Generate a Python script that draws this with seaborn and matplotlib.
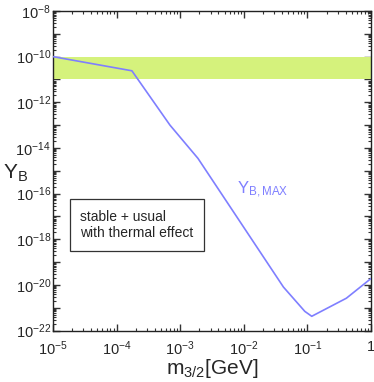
import numpy as np
import pandas as pd
import matplotlib
matplotlib.use("Agg")
import matplotlib.pyplot as plt
import matplotlib.ticker as mticker
import seaborn as sns

# valeurs
m32 = [1e-5, 1.74e-4, 6.9e-4, 1.9e-3, 0.042, 0.091, 0.117, 0.41, 1.0]
yb_max = [1.0e-10, 2.4e-11, 1.0e-13, 3.5e-15, 8e-21, 6.9e-22, 4.2e-22, 2.6e-21, 1.9e-20]
bande_obs = [1e-11, 1e-10]
y_labels = [-22, -20, -18, -16, -14, -12, -10, -8]
x_labels = [-5, -4, -3, -2, -1, 0]

sns.set_style("ticks")
plt.rcParams['font.family'] = ['Liberation Sans', 'DejaVu Sans']
plt.rcParams['mathtext.fontset'] = 'custom'
plt.rcParams['mathtext.rm'] = 'Liberation Sans'
plt.rcParams['mathtext.default'] = 'regular'

df = pd.DataFrame({'m32': m32, 'yb': yb_max})

fig = plt.figure(figsize=(3.74, 3.82), dpi=100)
ax = fig.add_axes([0.1417, 0.1348, 0.8503, 0.8364])

ax.axhspan(bande_obs[0], bande_obs[1], color='#d5f27c', lw=0, zorder=1)
sns.lineplot(data=df, x='m32', y='yb', ax=ax, color='#7f7fff', lw=1.2, zorder=3)

ax.set_xscale('log')
ax.set_yscale('log')
ax.set_xlim(1e-5, 1)
ax.set_ylim(1e-22, 1e-8)

# ticks
ax.xaxis.set_major_locator(mticker.FixedLocator([10.0**e for e in x_labels]))
ax.xaxis.set_major_formatter(mticker.FixedFormatter(
    ['1' if e == 0 else r'$10^{%d}$' % e for e in x_labels]))
ax.xaxis.set_minor_locator(mticker.LogLocator(base=10, subs=np.arange(2, 10), numticks=20))
ax.xaxis.set_minor_formatter(mticker.NullFormatter())

ax.yaxis.set_major_locator(mticker.FixedLocator([10.0**e for e in range(-22, -7)]))
ax.yaxis.set_major_formatter(mticker.FixedFormatter(
    [r'$10^{%d}$' % e if e in y_labels else '' for e in range(-22, -7)]))
ax.yaxis.set_minor_locator(mticker.LogLocator(base=10, subs=np.arange(2, 10), numticks=30))
ax.yaxis.set_minor_formatter(mticker.NullFormatter())

ax.tick_params(which='both', direction='in', top=True, right=True,
               color='#333333', labelsize=10.5)
ax.tick_params(axis='x', pad=6.5)
ax.tick_params(axis='y', pad=1.5)
ax.tick_params(which='major', length=5, width=1)
ax.tick_params(which='minor', length=2.5, width=0.8)
for s in ax.spines.values():
    s.set_linewidth(1)
    s.set_color('#222222')

ax.set_xlabel(r'$m_{3/2}$[GeV]', fontsize=15, labelpad=-1)
ax.set_ylabel('')
fig.text(0.008, 0.545, r'$Y_B$', fontsize=15, ha='left', va='center')

ax.text(0.58, 0.44, r'$Y_{B,MAX}$', transform=ax.transAxes, color='#7f7fff',
        fontsize=12, ha='left', va='center')

ax.text(0.085, 0.33, 'stable + usual\nwith thermal effect', transform=ax.transAxes,
        fontsize=10, ha='left', va='center', linespacing=1.25,
        bbox=dict(boxstyle='square,pad=0.75', fc='white', ec='#333333', lw=0.9))

fig.savefig('out.png', dpi=100)
